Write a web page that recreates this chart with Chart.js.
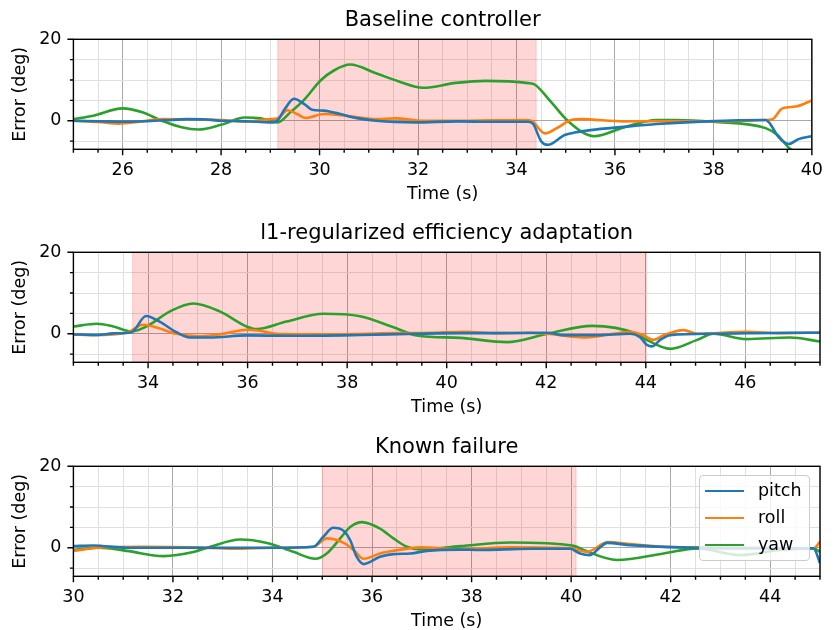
<!DOCTYPE html>
<html>
<head>
<meta charset="utf-8">
<script src="https://cdn.jsdelivr.net/npm/chart.js@4.4.0/dist/chart.umd.min.js"></script>
<style>
    body { margin: 0; background: #fff; }
    #wrap { position: relative; width: 834px; height: 630px; overflow: hidden; }
    .panel { position: absolute; left: 0; width: 834px; height: 213px; }
    #legend {
        position: absolute; left: 699px; top: 475px; width: 111px; height: 86px;
        box-sizing: border-box; border: 1px solid #cccccc; border-radius: 4px;
        background: rgba(255, 255, 255, 0.8);
        font-family: 'DejaVu Sans', sans-serif; font-size: 17.5px; color: #000;
    }
    #legend .item { position: absolute; left: 5px; height: 22px; line-height: 22px; white-space: nowrap; }
    #legend .sw { display: inline-block; width: 39px; height: 2.6px; vertical-align: middle; margin-right: 14px; }
</style>
</head>
<body>
<div id="wrap">
    <div class="panel" style="top:0px"><canvas id="c1"></canvas></div>
    <div class="panel" style="top:213px"><canvas id="c2"></canvas></div>
    <div class="panel" style="top:427px"><canvas id="c3"></canvas></div>
    <div id="legend"></div>
</div>
<script>
    // series names and colours
    const seriesNames = ['pitch', 'roll', 'yaw'];
    const seriesColors = ['#1f77b4', '#ff7f0e', '#2ca02c'];

    // --- Baseline controller ---
    const baseTitle = 'Baseline controller';
    const baseRange = [25, 40];
    const baseSpan = [29.15, 34.4];
    const basePitchT = [25, 25.5, 26, 26.5, 27, 27.3, 27.7, 28, 28.5, 29, 29.15, 29.3, 29.48, 29.69, 29.85, 30.08, 30.2, 30.42, 30.76, 31.15, 31.95, 32.8, 33.5, 34.24, 34.34, 34.5, 34.64, 34.98, 35.18, 35.5, 36.18, 36.85, 37.85, 39.06, 39.13, 39.33, 39.53, 39.73, 40];
    const basePitchV = [0, -0.1, -0.2, -0.1, 0.2, 0.4, 0.3, 0, -0.1, -0.4, 0.15, 3.0, 5.4, 4.1, 2.7, 2.5, 2.3, 1.65, 0.65, 0, -0.4, -0.15, -0.25, -0.25, -0.8, -5.0, -5.9, -3.5, -2.9, -2.3, -1.5, -0.8, -0.15, 0.2, -0.4, -4.1, -5.7, -4.5, -3.8];
    const baseRollT = [25, 25.5, 25.93, 26.3, 26.8, 27.5, 28, 28.5, 29, 29.15, 29.35, 29.55, 29.72, 30.08, 30.55, 31.15, 31.55, 32.1, 32.8, 33.5, 34.17, 34.3, 34.58, 34.84, 35.11, 35.3, 36.18, 37, 38, 39.06, 39.2, 39.4, 39.67, 40];
    const baseRollV = [0, -0.3, -0.7, -0.3, 0.4, 0.3, 0.2, -0.2, 0.4, 0.6, 2.6, 1.6, 0.7, 1.65, 1.2, 0.4, 0.6, 0, 0, 0.1, 0.2, 0, -3.1, -1.65, 0.2, 0.4, -0.15, -0.1, -0.15, 0.2, 0.4, 3.05, 3.5, 5.0];
    const baseYawT = [25, 25.4, 26, 26.4, 26.8, 27.2, 27.54, 28, 28.48, 28.8, 29.15, 29.4, 29.69, 30.02, 30.3, 30.62, 31.16, 31.6, 32.1, 32.77, 33.37, 34.24, 34.37, 34.71, 35.04, 35.58, 36.18, 36.85, 37.25, 37.99, 39.06, 39.3, 39.53, 39.7, 40];
    const baseYawV = [0.4, 1.25, 3.05, 2.1, 0, -1.6, -2.15, -1.0, 0.8, 0.6, -0.4, 2.0, 5.2, 9.9, 12.4, 13.8, 11.6, 9.7, 8.1, 9.3, 9.8, 9.25, 8.9, 4.5, 0, -3.8, -1.65, 0.2, 0.2, -0.25, -1.8, -3.5, -6.6, -8, -10];

    // --- l1-regularized efficiency adaptation ---
    const l1Title = 'l1-regularized efficiency adaptation';
    const l1Range = [32.5, 47.5];
    const l1Span = [33.69, 44.01];
    const l1PitchT = [32.5, 32.97, 33.3, 33.67, 33.96, 34.24, 34.57, 34.84, 35.24, 35.98, 36.9, 38.26, 39.4, 40.3, 41.0, 42.01, 42.35, 43.02, 43.69, 43.89, 44.02, 44.12, 44.29, 44.49, 45.36, 47.03, 47.5];
    const l1PitchV = [-0.1, -0.3, 0.1, 0.4, 4.35, 2.9, 0.4, -0.9, -0.9, -0.4, -0.5, -0.3, 0, 0.15, 0.15, 0.25, -0.35, -0.35, 0, -0.9, -2.7, -3.1, -1.5, -0.35, 0, 0.25, 0.25];
    const l1RollT = [32.5, 32.9, 33.57, 33.9, 34.17, 34.57, 35.04, 35.44, 35.98, 36.24, 36.58, 37.58, 38.93, 39.67, 40.34, 41.01, 41.68, 42.01, 42.81, 43.35, 43.69, 43.95, 44.15, 44.36, 44.76, 45.03, 46.03, 46.7, 47.5];
    const l1RollV = [-0.15, -0.35, 0.25, 2.2, 1.55, 0, -0.6, -0.15, 1.0, 0.75, 0, -0.15, 0.15, 0.25, 0.5, 0.15, 0.25, 0, -0.9, 0, 0.5, -0.35, -1.5, -0.35, 0.9, 0, 0.5, 0.15, 0.3];
    const l1YawT = [32.5, 32.97, 33.3, 33.67, 33.97, 34.44, 34.91, 35.44, 35.98, 36.18, 36.78, 37.52, 38.26, 38.93, 39.4, 40.27, 41.21, 42.01, 42.92, 43.82, 44.02, 44.49, 45.03, 45.36, 46.03, 46.9, 47.5];
    const l1YawV = [1.8, 2.45, 1.8, 0.6, 1.8, 5.5, 7.45, 5.5, 1.8, 1.15, 3.0, 4.9, 4.3, 1.6, -0.4, -1.0, -2.05, -0.05, 1.95, 0, -1.5, -3.7, -1.5, 0, -1.3, -0.9, -1.9];

    // --- Known failure ---
    const knownTitle = 'Known failure';
    const knownRange = [30, 45];
    const knownSpan = [35.0, 40.1];
    const knownPitchT = [30, 30.4, 31.07, 32, 33, 34.02, 34.82, 35.02, 35.22, 35.43, 35.56, 35.69, 35.83, 36.16, 36.43, 36.77, 37.1, 37.77, 38.17, 39.18, 39.98, 40.18, 40.38, 40.58, 40.72, 41.19, 42.19, 43.2, 44.87, 45];
    const knownPitchV = [0.4, 0.55, 0, 0, 0, 0, 0.25, 2.7, 4.9, 4.15, 1.9, -2.2, -4.0, -2.2, -1.55, -1.4, -0.75, -0.45, -0.55, -0.25, -0.25, -1.4, -1.8, 0.1, 1.2, 0.65, 0.1, -0.15, -0.15, -3.7];
    const knownRollT = [30, 30.5, 31.4, 32.41, 33.22, 34.02, 34.82, 35.09, 35.43, 35.63, 35.83, 36.16, 36.43, 36.97, 37.77, 38.77, 39.98, 40.31, 40.75, 41.19, 41.86, 42.53, 44.87, 45];
    const knownRollV = [-0.75, 0, 0.25, 0.1, -0.25, 0, 0.25, 2.3, 1.2, -0.55, -2.7, -1.4, -0.75, 0.1, -0.4, 0.1, -0.15, -1.0, 1.4, 0.9, 0.25, 0.1, -0.15, 1.5];
    const knownYawT = [30, 30.5, 31.07, 31.81, 32.41, 32.75, 33.35, 33.89, 34.42, 34.86, 35.09, 35.36, 35.56, 35.8, 36.16, 36.43, 36.7, 36.97, 37.77, 38.77, 40.05, 40.25, 40.92, 41.86, 42.53, 43.4, 44.2, 44.87, 45];
    const knownYawV = [-0.55, 0, -0.75, -2.05, -1.05, 0.25, 2.05, 1.2, -1.0, -2.7, -1.4, 2.3, 5.1, 6.3, 4.7, 2.3, 0.25, -0.4, 0.4, 1.3, 0.5, -0.55, -3.0, -1.4, -0.15, -1.8, -0.55, -0.15, -1.0];

    // y axis
    const yRange = [-7, 20];
    const yTicks = [-5, 0, 5, 10, 15, 20];
    const yLabelled = [0, 20];

    Chart.defaults.font.family = "'DejaVu Sans', sans-serif";
    Chart.defaults.color = '#000';

    // shaded interval, drawn over the grid but under the lines
    const spanPlugin = {
        id: 'span',
        beforeDatasetsDraw(chart, args, opts) {
            const { ctx, chartArea: a, scales: { x } } = chart;
            const x0 = x.getPixelForValue(opts.from);
            const x1 = x.getPixelForValue(opts.to);
            ctx.save();
            ctx.fillStyle = 'rgba(255, 0, 0, 0.16)';
            ctx.fillRect(x0, a.top, x1 - x0, a.bottom - a.top);
            ctx.strokeStyle = 'rgba(255, 0, 0, 0.16)';
            ctx.lineWidth = 1;
            ctx.strokeRect(x0, a.top, x1 - x0, a.bottom - a.top);
            ctx.restore();
        }
    };

    // matplotlib style frame + major/minor tick marks
    const framePlugin = {
        id: 'frame',
        afterDraw(chart) {
            const { ctx, chartArea: a, scales: { x, y } } = chart;
            ctx.save();
            ctx.strokeStyle = '#000';
            ctx.lineWidth = 1.4;
            ctx.beginPath();
            x.ticks.forEach(t => {
                const px = x.getPixelForValue(t.value);
                const len = t.value % 2 === 0 ? 6 : 3.5;
                ctx.moveTo(px, a.bottom);
                ctx.lineTo(px, a.bottom + len);
            });
            y.ticks.forEach(t => {
                const py = y.getPixelForValue(t.value);
                const len = yLabelled.includes(t.value) ? 6 : 3.5;
                ctx.moveTo(a.left, py);
                ctx.lineTo(a.left - len, py);
            });
            ctx.stroke();
            ctx.strokeRect(a.left, a.top, a.right - a.left, a.bottom - a.top);
            ctx.restore();
        }
    };

    function makeSet(i, t, v) {
        return {
            label: seriesNames[i],
            data: t.map((tt, k) => ({ x: tt, y: v[k] })),
            borderColor: seriesColors[i],
            backgroundColor: seriesColors[i],
            borderWidth: 2.6,
            pointRadius: 0,
            fill: false,
            cubicInterpolationMode: 'monotone'
        };
    }

    function makeChart(id, title, range, span, sets) {
        const ctx = document.getElementById(id).getContext('2d');
        return new Chart(ctx, {
            type: 'line',
            data: { datasets: sets },
            options: {
                responsive: true,
                maintainAspectRatio: false,
                animation: false,
                layout: { padding: { left: 0, right: 14, top: 0, bottom: 0 } },
                plugins: {
                    legend: { display: false },
                    tooltip: { enabled: false },
                    title: {
                        display: true,
                        text: title,
                        fullSize: false,
                        color: '#000',
                        font: { size: 21, weight: 'normal' },
                        padding: { top: 8.4, bottom: 5.7 }
                    },
                    span: { from: span[0], to: span[1] }
                },
                scales: {
                    x: {
                        type: 'linear',
                        min: range[0],
                        max: range[1],
                        afterBuildTicks: s => {
                            const ticks = [];
                            for (let v = range[0]; v <= range[1] + 1e-9; v += 0.5) ticks.push({ value: v });
                            s.ticks = ticks;
                        },
                        afterFit: s => { s.height = 213 - 149.3; },
                        ticks: {
                            autoSkip: false,
                            maxRotation: 0,
                            padding: 11,
                            color: '#000',
                            font: { size: 17.5 },
                            callback: v => (v % 2 === 0 ? String(v) : '')
                        },
                        grid: {
                            drawTicks: false,
                            lineWidth: 1,
                            color: c => (c.tick && c.tick.value % 2 === 0 ? '#a8a8a8' : '#e0e0e0')
                        },
                        border: { display: false },
                        title: {
                            display: true,
                            text: 'Time (s)',
                            color: '#000',
                            font: { size: 17.5 },
                            padding: { top: 0, bottom: 8.4 }
                        }
                    },
                    y: {
                        type: 'linear',
                        min: yRange[0],
                        max: yRange[1],
                        afterBuildTicks: s => { s.ticks = yTicks.map(v => ({ value: v })); },
                        afterFit: s => { s.width = 73.4; },
                        ticks: {
                            autoSkip: false,
                            padding: 12,
                            color: '#000',
                            font: { size: 17.5 },
                            callback: v => (yLabelled.includes(v) ? String(v) : '')
                        },
                        grid: {
                            drawTicks: false,
                            lineWidth: 1,
                            color: c => (c.tick && yLabelled.includes(c.tick.value) ? '#a8a8a8' : '#e0e0e0')
                        },
                        border: { display: false },
                        title: {
                            display: true,
                            text: 'Error (deg)',
                            color: '#000',
                            font: { size: 17.5 },
                            padding: { top: 10, bottom: 0 }
                        }
                    }
                }
            },
            plugins: [spanPlugin, framePlugin]
        });
    }

    makeChart('c1', baseTitle, baseRange, baseSpan, [
        makeSet(0, basePitchT, basePitchV),
        makeSet(1, baseRollT, baseRollV),
        makeSet(2, baseYawT, baseYawV)
    ]);
    makeChart('c2', l1Title, l1Range, l1Span, [
        makeSet(0, l1PitchT, l1PitchV),
        makeSet(1, l1RollT, l1RollV),
        makeSet(2, l1YawT, l1YawV)
    ]);
    makeChart('c3', knownTitle, knownRange, knownSpan, [
        makeSet(0, knownPitchT, knownPitchV),
        makeSet(1, knownRollT, knownRollV),
        makeSet(2, knownYawT, knownYawV)
    ]);

    // legend box inside the last panel
    const legend = document.getElementById('legend');
    seriesNames.forEach((name, i) => {
        const item = document.createElement('div');
        item.className = 'item';
        item.style.top = (3 + i * 27) + 'px';
        item.innerHTML = '<span class="sw" style="background:' + seriesColors[i] + '"></span>' + name;
        legend.appendChild(item);
    });
</script>
</body>
</html>
